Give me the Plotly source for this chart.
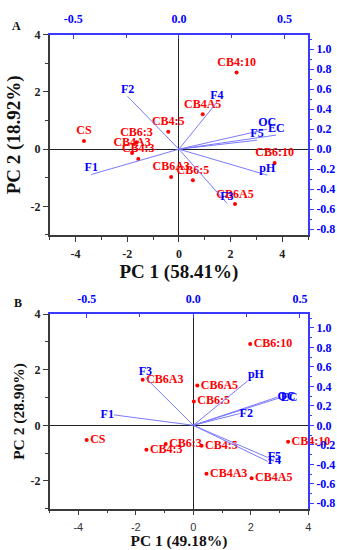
import plotly.graph_objects as go

# ---------------- Panel A data ----------------
samples_A = ["CS", "CB6:3", "CB4A3", "CB4:3", "CB4:5", "CB4A5", "CB4:10",
             "CB6A3", "CB6:5", "CB6:10", "CB6A5"]
pc1_A = [-3.67, -1.64, -1.81, -1.57, -0.41, 0.92, 2.23, -0.30, 0.54, 3.70, 2.17]
pc2_A = [0.29, 0.24, -0.13, -0.34, 0.61, 1.22, 2.68, -0.97, -1.09, -0.48, -1.92]

vars_A = ["F1", "F2", "F3", "F4", "F5", "OC", "EC", "pH"]
load1_A = [-0.415, -0.243, 0.227, 0.180, 0.370, 0.418, 0.461, 0.419]
load2_A = [-0.253, 0.528, -0.540, 0.469, 0.090, 0.200, 0.141, -0.260]

# ---------------- Panel B data ----------------
samples_B = ["CS", "CB4:3", "CB6:3", "CB4:5", "CB4A3", "CB4A5", "CB4:10",
             "CB6A3", "CB6A5", "CB6:5", "CB6:10"]
pc1_B = [-3.71, -1.63, -0.96, 0.29, 0.46, 2.03, 3.30, -1.76, 0.14, 0.02, 1.98]
pc2_B = [-0.53, -0.88, -0.67, -0.74, -1.74, -1.91, -0.59, 1.64, 1.43, 0.86, 2.93]

vars_B = ["F1", "F2", "F3", "F4", "F5", "OC", "EC", "pH"]
load1_B = [-0.372, 0.217, -0.225, 0.349, 0.349, 0.395, 0.410, 0.256]
load2_B = [0.107, 0.120, 0.490, -0.370, -0.330, 0.290, 0.285, 0.457]
varpos_B = ["middle left", "middle right", "top center", "middle right",
            "middle right", "middle right", "middle right", "top right"]

# tick values / labels
pc_ticks = [-4, -2, 0, 2, 4]
pc_ticklabels = ["-4", "-2", "0", "2", "4"]
load_top_ticks = [-0.5, 0.0, 0.5]
load_top_labels = ["-0.5", "0.0", "0.5"]
load_right_ticks = [-0.8, -0.6, -0.4, -0.2, 0.0, 0.2, 0.4, 0.6, 0.8, 1.0]
load_right_labels = ["-0.8", "-0.6", "-0.4", "-0.2", "0.0", "0.2", "0.4", "0.6", "0.8", "1.0"]

# axis ranges
pc1_range_A = [-5, 5]
pc2_range_A = [-3, 4]
load1_range_A = [-0.6125, 0.6125]
load2_range_A = [-0.857, 1.143]
pc1_range_B = [-5, 4]
pc2_range_B = [-3, 4]
load1_range_B = [-0.674, 0.539]
load2_range_B = [-0.855, 1.14]

SERIF = "Liberation Serif"
SANS = "Liberation Sans"
RED = "#ff0000"
BLUE = "#0000ff"
AXBLUE = "#3a3aff"
VEC = "#7a7aff"
DARK = "#3a3a3a"


def segments(xs, ys):
    X, Y = [], []
    for a, b in zip(xs, ys):
        X += [0, a, None]
        Y += [0, b, None]
    return X, Y


fig = go.Figure()

# ---- Panel A ----
vx, vy = segments(load1_A, load2_A)
fig.add_trace(go.Scatter(x=vx, y=vy, mode="lines", line=dict(color=VEC, width=1),
                         xaxis="x2", yaxis="y2", hoverinfo="skip"))
fig.add_trace(go.Scatter(x=load1_A, y=load2_A, mode="text", text=vars_A,
                         textposition="top center",
                         textfont=dict(family=SERIF, size=12, color=BLUE, weight="bold"),
                         xaxis="x2", yaxis="y2", cliponaxis=False))
fig.add_trace(go.Scatter(x=pc1_A, y=pc2_A, mode="markers+text", text=samples_A,
                         textposition="top center",
                         marker=dict(color=RED, size=4),
                         textfont=dict(family=SERIF, size=12, color=RED, weight="bold"),
                         xaxis="x", yaxis="y", cliponaxis=False))

# ---- Panel B ----
vx, vy = segments(load1_B, load2_B)
fig.add_trace(go.Scatter(x=vx, y=vy, mode="lines", line=dict(color=VEC, width=1),
                         xaxis="x4", yaxis="y4", hoverinfo="skip"))
fig.add_trace(go.Scatter(x=load1_B, y=load2_B, mode="text", text=vars_B,
                         textposition=varpos_B,
                         textfont=dict(family=SERIF, size=12, color=BLUE, weight="bold"),
                         xaxis="x4", yaxis="y4", cliponaxis=False))
fig.add_trace(go.Scatter(x=pc1_B, y=pc2_B, mode="markers+text", text=samples_B,
                         textposition="middle right",
                         marker=dict(color=RED, size=4),
                         textfont=dict(family=SERIF, size=12, color=RED, weight="bold"),
                         xaxis="x3", yaxis="y3", cliponaxis=False))

W, H = 337, 550
xdom = [50 / W, 311 / W]
ydomA = [1 - 231.7 / H, 1 - 28.3 / H]
ydomB = [1 - 510 / H, 1 - 312.3 / H]


def main_x(dom, rng, anchor, title, tsize, tickfont, standoff):
    return dict(domain=dom, anchor=anchor, range=rng, side="bottom",
                showline=True, linecolor=DARK, linewidth=1.5, mirror=False,
                ticks="outside", ticklen=5, tickwidth=1, tickcolor=DARK,
                tickmode="array", tickvals=pc_ticks, ticktext=pc_ticklabels,
                minor=dict(ticks="outside", ticklen=3, tick0=-5, dtick=1, tickcolor=DARK),
                zeroline=True, zerolinecolor="#222222", zerolinewidth=1,
                showgrid=False, tickfont=tickfont, ticklabelstandoff=2,
                title=dict(text=title, standoff=standoff,
                           font=dict(family=SERIF, size=tsize, color="#111", weight="bold")))


def main_y(dom, rng, anchor, title, tsize, tickfont, standoff):
    return dict(domain=dom, anchor=anchor, range=rng, side="left",
                showline=True, linecolor=DARK, linewidth=1.5,
                ticks="outside", ticklen=5, tickwidth=1, tickcolor=DARK,
                tickmode="array", tickvals=pc_ticks, ticktext=pc_ticklabels,
                minor=dict(ticks="outside", ticklen=3, tick0=-3, dtick=1, tickcolor=DARK),
                zeroline=True, zerolinecolor="#222222", zerolinewidth=1,
                showgrid=False, tickfont=tickfont,
                title=dict(text=title, standoff=standoff,
                           font=dict(family=SERIF, size=tsize, color="#111", weight="bold")))


def top_x(over, anchor, rng):
    return dict(overlaying=over, anchor=anchor, side="top", range=rng,
                showline=True, linecolor=AXBLUE, linewidth=1.5,
                ticks="inside", ticklen=4, tickcolor=AXBLUE,
                tickmode="array", tickvals=load_top_ticks, ticktext=load_top_labels,
                minor=dict(ticks="inside", ticklen=3, tick0=0, dtick=0.25, tickcolor=AXBLUE),
                zeroline=False, showgrid=False, ticklabelstandoff=5,
                tickfont=dict(family=SERIF, size=12, color=BLUE, weight="bold"))


def right_y(over, anchor, rng):
    return dict(overlaying=over, anchor=anchor, side="right", range=rng,
                showline=True, linecolor=AXBLUE, linewidth=1.5,
                ticks="outside", ticklen=4, tickcolor=AXBLUE,
                tickmode="array", tickvals=load_right_ticks, ticktext=load_right_labels,
                minor=dict(ticks="outside", ticklen=2.5, tick0=0, dtick=0.1, tickcolor=AXBLUE),
                zeroline=False, showgrid=False,
                tickfont=dict(family=SERIF, size=12, color=BLUE, weight="bold"))


serif_tick = dict(family=SERIF, size=12, color="#222", weight="bold")
sans_tick = dict(family=SANS, size=11, color="#333")

fig.update_layout(
    width=W, height=H, margin=dict(l=0, r=0, t=0, b=0),
    paper_bgcolor="white", plot_bgcolor="white", showlegend=False,
    xaxis=main_x(xdom, pc1_range_A, "y", "PC 1 (58.41%)", 19, serif_tick, 3),
    yaxis=main_y(ydomA, pc2_range_A, "x", "PC 2 (18.92%)", 19, serif_tick, 5),
    xaxis2=top_x("x", "y", load1_range_A),
    yaxis2=right_y("y", "x", load2_range_A),
    xaxis3=main_x(xdom, pc1_range_B, "y3", "PC 1 (49.18%)", 15.5, sans_tick, 5),
    yaxis3=main_y(ydomB, pc2_range_B, "x3", "PC 2 (28.90%)", 15.5, serif_tick, 2),
    xaxis4=top_x("x3", "y3", load1_range_B),
    yaxis4=right_y("y3", "x3", load2_range_B),
    annotations=[
        dict(text="A", x=10 / W, y=1 - 10 / H, xref="paper", yref="paper",
             showarrow=False, font=dict(family=SERIF, size=12, color="#111", weight="bold")),
        dict(text="B", x=12 / W, y=1 - 301 / H, xref="paper", yref="paper",
             showarrow=False, font=dict(family=SERIF, size=12, color="#111", weight="bold")),
    ],
)

fig.write_html("out.html", config={"displayModeBar": False},
               post_script="document.body.style.margin='0px';")
